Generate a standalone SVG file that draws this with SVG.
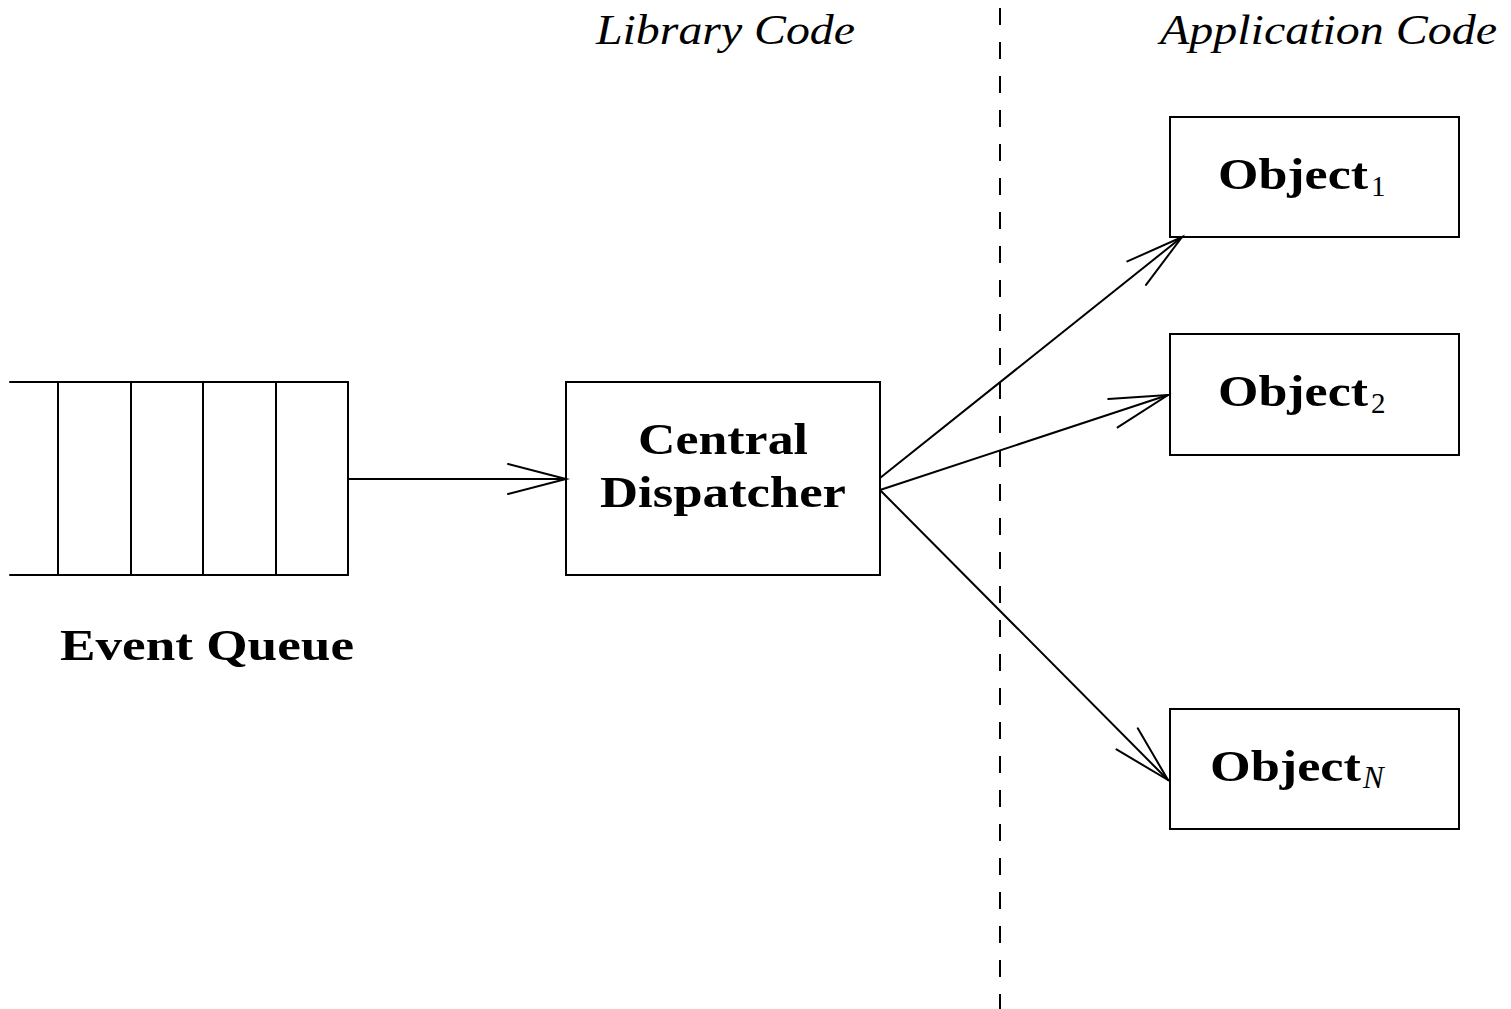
<svg xmlns="http://www.w3.org/2000/svg" width="1511" height="1009" viewBox="0 0 1511 1009">
  <style>
    .ln { stroke: #000; stroke-width: 2; fill: none; stroke-linecap: round; }
    .box { stroke: #000; stroke-width: 2; fill: #fff; }
    .bold { font-family: "Liberation Serif", "DejaVu Serif", serif; font-weight: bold; font-size: 45px; fill: #000; }
    .ital { font-family: "Liberation Serif", "DejaVu Serif", serif; font-style: italic; font-size: 42px; fill: #000; }
    .sub { font-weight: normal; font-size: 29px; }
    .subi { font-weight: normal; font-style: italic; font-size: 31px; }
  </style>
  <defs>
    <marker id="open" markerUnits="userSpaceOnUse" markerWidth="80" markerHeight="40" refX="0" refY="0" viewBox="-70 -20 80 40" orient="auto" overflow="visible">
      <path d="M-58,-15 L0,0 L-58,15" fill="none" stroke="#000" stroke-width="2" stroke-linecap="round"/>
    </marker>
  </defs>
  <rect width="1511" height="1009" fill="#fff"/>

  <!-- boundary between library and application -->
  <line x1="1000" y1="8" x2="1000" y2="1009" stroke="#000" stroke-width="2" stroke-dasharray="17 17"/>
  <text class="ital" x="596" y="44" textLength="259" lengthAdjust="spacingAndGlyphs">Library Code</text>
  <text class="ital" x="1160" y="44" textLength="337" lengthAdjust="spacingAndGlyphs">Application Code</text>

  <!-- event queue -->
  <g id="event-queue">
    <line class="ln" x1="10" y1="382" x2="348" y2="382"/>
    <line class="ln" x1="10" y1="575" x2="348" y2="575"/>
    <line class="ln" x1="58" y1="382" x2="58" y2="575"/>
    <line class="ln" x1="131" y1="382" x2="131" y2="575"/>
    <line class="ln" x1="203" y1="382" x2="203" y2="575"/>
    <line class="ln" x1="276" y1="382" x2="276" y2="575"/>
    <line class="ln" x1="348" y1="382" x2="348" y2="575"/>
    <text class="bold" x="60" y="660" textLength="294" lengthAdjust="spacingAndGlyphs">Event Queue</text>
  </g>

  <!-- central dispatcher -->
  <g id="dispatcher">
    <rect class="box" x="566" y="382" width="314" height="193"/>
    <text class="bold" x="638" y="454" textLength="170" lengthAdjust="spacingAndGlyphs">Central</text>
    <text class="bold" x="600" y="507" textLength="246" lengthAdjust="spacingAndGlyphs">Dispatcher</text>
  </g>

  <!-- application objects -->
  <g id="object-1">
    <rect class="box" x="1170" y="117" width="289" height="120"/>
    <text class="bold" x="1218" y="189"><tspan textLength="150" lengthAdjust="spacingAndGlyphs">Object</tspan><tspan class="sub" dx="3" dy="7">1</tspan></text>
  </g>
  <g id="object-2">
    <rect class="box" x="1170" y="334" width="289" height="121"/>
    <text class="bold" x="1218" y="406"><tspan textLength="150" lengthAdjust="spacingAndGlyphs">Object</tspan><tspan class="sub" dx="3" dy="7">2</tspan></text>
  </g>
  <g id="object-n">
    <rect class="box" x="1170" y="709" width="289" height="120"/>
    <text class="bold" x="1210" y="781"><tspan textLength="151" lengthAdjust="spacingAndGlyphs">Object</tspan><tspan class="subi" dx="2" dy="7">N</tspan></text>
  </g>

  <!-- connectors -->
  <g id="connectors">
    <line class="ln" x1="348" y1="479" x2="566" y2="479" marker-end="url(#open)"/>
    <line class="ln" x1="880" y1="478" x2="1182" y2="237" marker-end="url(#open)"/>
    <line class="ln" x1="880" y1="490" x2="1168" y2="395" marker-end="url(#open)"/>
    <line class="ln" x1="880" y1="490" x2="1168" y2="780" marker-end="url(#open)"/>
  </g>
</svg>
